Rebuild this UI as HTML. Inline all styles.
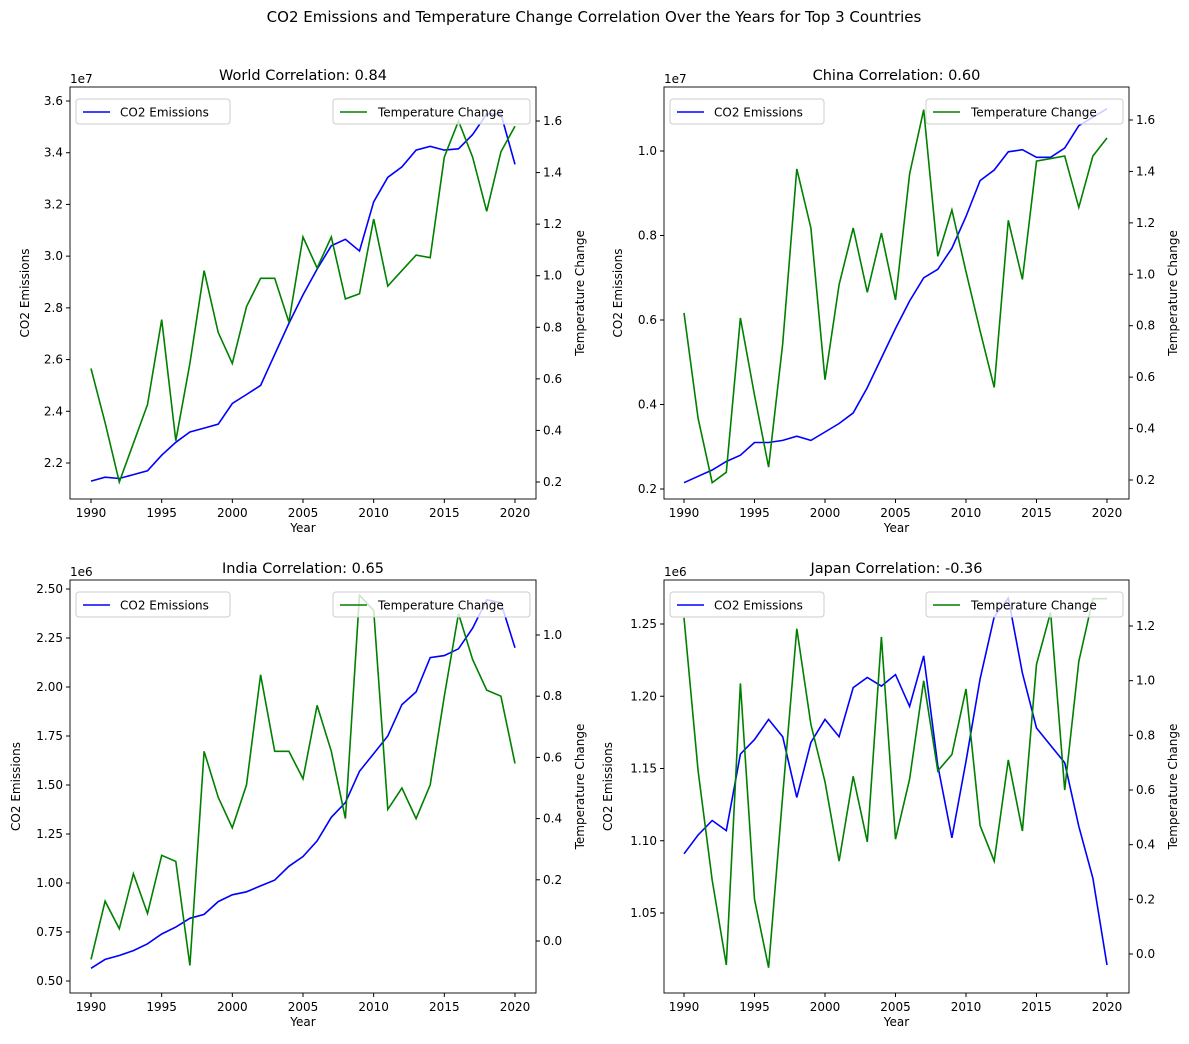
<!DOCTYPE html>
<html><head><meta charset="utf-8">
<style>
body{margin:0;background:#fff;font-family:"Liberation Sans","DejaVu Sans",sans-serif;}
svg text{font-family:"DejaVu Sans","Liberation Sans",sans-serif;fill:#000;}
</style></head>
<body>
<svg id="chart" width="1189" height="1039" xmlns="http://www.w3.org/2000/svg">
<text x="594" y="22" text-anchor="middle" font-size="15">CO2 Emissions and Temperature Change Correlation Over the Years for Top 3 Countries</text>
</svg>
<script>
const years = [];
for (let y = 1990; y <= 2020; y++) years.push(y);
const worldCO2 = [2.13,2.145,2.14,2.155,2.17,2.23,2.28,2.32,2.335,2.35,2.43,2.465,2.50,2.62,2.74,2.85,2.95,3.04,3.065,3.02,3.21,3.305,3.345,3.41,3.425,3.41,3.415,3.47,3.55,3.55,3.355];
const worldTemp = [0.64,0.43,0.20,0.35,0.50,0.83,0.36,0.66,1.02,0.78,0.66,0.88,0.99,0.99,0.82,1.15,1.03,1.15,0.91,0.93,1.22,0.96,1.02,1.08,1.07,1.46,1.6,1.46,1.25,1.48,1.58];
const chinaCO2 = [0.215,0.23,0.245,0.265,0.28,0.31,0.31,0.315,0.325,0.315,0.335,0.355,0.38,0.44,0.51,0.58,0.645,0.70,0.72,0.77,0.845,0.93,0.955,0.998,1.003,0.985,0.985,1.007,1.06,1.08,1.10];
const chinaTemp = [0.85,0.44,0.19,0.23,0.83,0.53,0.25,0.73,1.41,1.18,0.59,0.96,1.18,0.93,1.16,0.90,1.39,1.64,1.07,1.25,1.01,0.78,0.56,1.21,0.98,1.44,1.45,1.46,1.26,1.46,1.53];
const indiaCO2 = [0.565,0.61,0.63,0.655,0.69,0.74,0.775,0.82,0.84,0.905,0.94,0.955,0.985,1.015,1.085,1.135,1.215,1.335,1.41,1.57,1.66,1.75,1.91,1.975,2.15,2.16,2.195,2.3,2.445,2.43,2.2];
const indiaTemp = [-0.06,0.13,0.04,0.22,0.09,0.28,0.26,-0.08,0.62,0.47,0.37,0.51,0.87,0.62,0.62,0.53,0.77,0.62,0.40,1.13,1.08,0.43,0.50,0.40,0.51,0.80,1.07,0.92,0.82,0.80,0.58];
const japanCO2 = [1.091,1.104,1.114,1.107,1.16,1.17,1.184,1.172,1.13,1.168,1.184,1.172,1.206,1.213,1.207,1.215,1.193,1.228,1.152,1.102,1.155,1.212,1.255,1.268,1.216,1.178,1.166,1.154,1.11,1.074,1.014];
const japanTemp = [1.23,0.67,0.27,-0.04,0.99,0.20,-0.05,0.58,1.19,0.84,0.63,0.34,0.65,0.41,1.16,0.42,0.64,1.00,0.67,0.73,0.97,0.47,0.34,0.71,0.45,1.06,1.25,0.60,1.07,1.30,1.30];
const xTicks = [1990,1995,2000,2005,2010,2015,2020];
const worldLeftTicks = [2.2,2.4,2.6,2.8,3.0,3.2,3.4,3.6];
const chinaLeftTicks = [0.2,0.4,0.6,0.8,1.0];
const indiaLeftTicks = [0.5,0.75,1.0,1.25,1.5,1.75,2.0,2.25,2.5];
const japanLeftTicks = [1.05,1.10,1.15,1.20,1.25];
const tempTicks16 = [0.2,0.4,0.6,0.8,1.0,1.2,1.4,1.6];
const indiaRightTicks = [0.0,0.2,0.4,0.6,0.8,1.0];
const japanRightTicks = [0.0,0.2,0.4,0.6,0.8,1.0,1.2];

const svg = document.getElementById('chart');
const NS = 'http://www.w3.org/2000/svg';
function mk(tag, attrs, parent){const e=document.createElementNS(NS,tag);for(const k in attrs)e.setAttribute(k,attrs[k]);(parent||svg).appendChild(e);return e;}
function lin(v0,p0,v1,p1){return v=>p0+(v-v0)*(p1-p0)/(v1-v0);}

const panels = [
 {key:'world',title:'World Correlation: 0.84',box:[70,87,536,499],xr:[91,515],l:[2.2,463,3.6,101],r:[0.2,482,1.6,121],co2:worldCO2,temp:worldTemp,lt:worldLeftTicks,ld:1,rt:tempTicks16,exp:'1e7',ylx:29},
 {key:'china',title:'China Correlation: 0.60',box:[664,87,1129,499],xr:[684,1107],l:[0.2,489,1.0,151],r:[0.2,480,1.6,120],co2:chinaCO2,temp:chinaTemp,lt:chinaLeftTicks,ld:1,rt:tempTicks16,exp:'1e7',ylx:622},
 {key:'india',title:'India Correlation: 0.65',box:[70,580,536,993],xr:[91,515],l:[0.5,981,2.5,589],r:[0.0,941,1.0,635],co2:indiaCO2,temp:indiaTemp,lt:indiaLeftTicks,ld:2,rt:indiaRightTicks,exp:'1e6',ylx:20},
 {key:'japan',title:'Japan Correlation: -0.36',box:[664,580,1129,993],xr:[684,1107],l:[1.05,913,1.25,624],r:[0.0,954,1.2,626],co2:japanCO2,temp:japanTemp,lt:japanLeftTicks,ld:2,rt:japanRightTicks,exp:'1e6',ylx:612}
];

panels.forEach(p=>{
 const g = mk('g',{});
 
 
 const [x0,y0,x1,y1]=p.box;
 const xs=lin(1990,p.xr[0],2020,p.xr[1]);
 const yl=lin(p.l[0],p.l[1],p.l[2],p.l[3]);
 const yr=lin(p.r[0],p.r[1],p.r[2],p.r[3]);
 const clip=mk('clipPath',{id:'clip-'+p.key},g);mk('rect',{x:x0,y:y0,width:x1-x0,height:y1-y0},clip);
 const t=mk('text',{x:(x0+x1)/2,y:y0-7,'text-anchor':'middle','font-size':14.5},g);t.textContent=p.title;
 
 
 const ex=mk('text',{x:x0,y:y0-4,'font-size':12},g);ex.textContent=p.exp;
 
 
 // lines
 const co2Pts=p.co2.map((v,i)=>xs(years[i]).toFixed(1)+','+yl(v).toFixed(1)).join(' ');
 const l1=mk('polyline',{points:co2Pts,fill:'none',stroke:'#0000ff','stroke-width':1.6,'clip-path':'url(#clip-'+p.key+')'},g);
 
 
 const tPts=p.temp.map((v,i)=>xs(years[i]).toFixed(1)+','+yr(v).toFixed(1)).join(' ');
 const l2=mk('polyline',{points:tPts,fill:'none',stroke:'#008000','stroke-width':1.6,'clip-path':'url(#clip-'+p.key+')'},g);
 
 
 mk('rect',{x:x0,y:y0,width:x1-x0,height:y1-y0,fill:'none',stroke:'#000','stroke-width':0.9},g);
 // x ticks
 xTicks.forEach(v=>{const x=xs(v);mk('line',{x1:x,y1:y1,x2:x,y2:y1+4,stroke:'#000'},g);
  const tx=mk('text',{x:x,y:y1+18,'text-anchor':'middle','font-size':12},g);tx.textContent=v;});
 const xl=mk('text',{x:(x0+x1)/2,y:y1+33,'text-anchor':'middle','font-size':12},g);xl.textContent='Year';
 
 
 p.lt.forEach(v=>{const y=yl(v);mk('line',{x1:x0-4,y1:y,x2:x0,y2:y,stroke:'#000'},g);
  const tx=mk('text',{x:x0-7,y:y+4,'text-anchor':'end','font-size':12},g);tx.textContent=v.toFixed(p.ld);});
 p.rt.forEach(v=>{const y=yr(v);mk('line',{x1:x1,y1:y,x2:x1+4,y2:y,stroke:'#000'},g);
  const tx=mk('text',{x:x1+7,y:y+4,'font-size':12},g);tx.textContent=v.toFixed(1);});
 const ly=mk('text',{x:p.ylx,y:(y0+y1)/2,'text-anchor':'middle','font-size':12,transform:'rotate(-90 '+p.ylx+' '+(y0+y1)/2+')'},g);ly.textContent='CO2 Emissions';
 
 
 const rx=x1+48;
 const ry=mk('text',{x:rx,y:(y0+y1)/2,'text-anchor':'middle','font-size':12,transform:'rotate(-90 '+rx+' '+(y0+y1)/2+')'},g);ry.textContent='Temperature Change';
 
 
 // legends
 const lg1=mk('g',{},g);
 
 
 mk('rect',{x:x0+6,y:y0+12,width:154,height:25,rx:3,fill:'#fff','fill-opacity':0.8,stroke:'#ccc'},lg1);
 mk('line',{x1:x0+13,y1:y0+25,x2:x0+40,y2:y0+25,stroke:'#0000ff','stroke-width':1.6},lg1);
 const lt1=mk('text',{x:x0+50,y:y0+29.5,'font-size':12},lg1);lt1.textContent='CO2 Emissions';
 const lg2=mk('g',{},g);
 
 
 mk('rect',{x:x1-203,y:y0+12,width:197,height:25,rx:3,fill:'#fff','fill-opacity':0.8,stroke:'#ccc'},lg2);
 mk('line',{x1:x1-196,y1:y0+25,x2:x1-169,y2:y0+25,stroke:'#008000','stroke-width':1.6},lg2);
 const lt2=mk('text',{x:x1-158,y:y0+29.5,'font-size':12},lg2);lt2.textContent='Temperature Change';
});
</script>
</body></html>
